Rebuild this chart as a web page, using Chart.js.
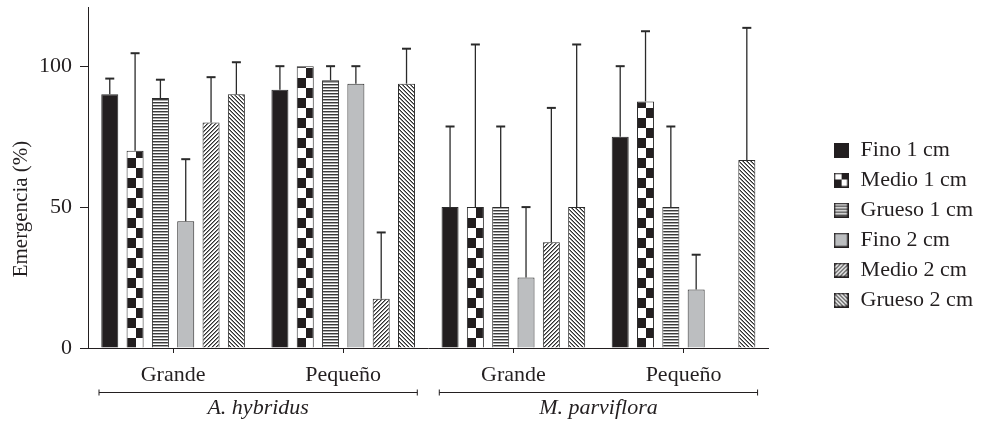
<!DOCTYPE html>
<html>
<head>
<meta charset="utf-8">
<script src="https://cdn.jsdelivr.net/npm/chart.js@4.4.1/dist/chart.umd.min.js"></script>
<style>
  html, body { margin: 0; padding: 0; background: #fff; }
  #wrap { position: relative; width: 983px; height: 425px; }
</style>
</head>
<body>
<div id="wrap"><canvas id="chart"></canvas></div>
<script>
// data (emergence %, upper error bar length)
const sizes = ['Grande', 'Pequeño', 'Grande', 'Pequeño'];
const species = ['A. hybridus', 'M. parviflora'];
const seriesNames = ['Fino 1 cm', 'Medio 1 cm', 'Grueso 1 cm', 'Fino 2 cm', 'Medio 2 cm', 'Grueso 2 cm'];

const fino1 = [90, 91.6, 50, 75];
const medio1 = [70, 100, 50, 87.5];
const grueso1 = [88.7, 95, 50, 50];
const fino2 = [45, 93.8, 25, 20.8];
const medio2 = [80, 17.5, 37.5, 0];
const grueso2 = [90, 93.8, 50, 66.7];

const fino1Err = [5.6, 8.4, 28.6, 25];
const medio1Err = [34.6, 0, 57.7, 24.9];
const grueso1Err = [6.5, 5, 28.6, 28.6];
const fino2Err = [22, 6.2, 25, 12.3];
const medio2Err = [16.1, 23.5, 47.7, 0];
const grueso2Err = [11.4, 12.4, 57.7, 46.9];

const yTicks = [0, 50, 100];

const INK = '#231f20';
const GREY = '#bcbec0';
const FONT = 'Liberation Serif';
const CAT_PCT = 0.893;
const BAR_PCT = 0.672;

// pattern tiles
const tiles = {};
function tile(kind) {
  if (tiles[kind]) return tiles[kind];
  const c = document.createElement('canvas');
  const g = c.getContext('2d');
  if (kind === 'checker') {
    c.width = 17; c.height = 20;
    g.fillStyle = '#fff'; g.fillRect(0, 0, 17, 20);
    g.fillStyle = INK;
    g.fillRect(9, 0, 8, 10);
    g.fillRect(0, 10, 9, 10);
  } else if (kind === 'hstripe') {
    c.width = 4; c.height = 3;
    g.fillStyle = '#fff'; g.fillRect(0, 0, 4, 3);
    g.fillStyle = '#3a3a3a'; g.fillRect(0, 0, 4, 1);
    g.fillStyle = '#a8a8a8'; g.fillRect(0, 1, 4, 1);
  } else if (kind === 'fwd' || kind === 'back') {
    c.width = 4; c.height = 4;
    g.fillStyle = '#fff'; g.fillRect(0, 0, 4, 4);
    for (let i = 0; i < 4; i++) {
      const yy = kind === 'fwd' ? 3 - i : i;
      g.fillStyle = '#2e2e2e'; g.fillRect(i, yy, 1, 1);
      g.fillStyle = '#8c8c8c'; g.fillRect(i, (yy + 1) % 4, 1, 1);
    }
  }
  tiles[kind] = c;
  return c;
}

function barFill(ctx) {
  const chart = ctx.chart;
  const kind = chart.data.datasets[ctx.datasetIndex].pattern;
  if (kind === 'solid') return INK;
  if (kind === 'grey') return GREY;
  const xs = chart.scales.x, ys = chart.scales.y;
  if (ctx.dataIndex === undefined || !xs || !xs.width) return '#fff';
  const n = chart.data.labels.length;
  const size = xs.width / n * CAT_PCT;
  const chunk = size / chart.data.datasets.length;
  const left = xs.getPixelForValue(ctx.dataIndex) - size / 2 + chunk * ctx.datasetIndex + chunk * (1 - BAR_PCT) / 2;
  const p = chart.ctx.createPattern(tile(kind), 'repeat');
  p.setTransform(new DOMMatrix().translate(Math.round(left), Math.round(ys.getPixelForValue(0))));
  return p;
}

// legend swatches
const swatches = {};
function swatch(kind) {
  if (swatches[kind]) return swatches[kind];
  const c = document.createElement('canvas');
  c.width = 15; c.height = 15;
  const g = c.getContext('2d');
  if (kind === 'solid') g.fillStyle = INK;
  else if (kind === 'grey') g.fillStyle = GREY;
  else if (kind === 'checker') {
    g.fillStyle = '#fff'; g.fillRect(0, 0, 15, 15);
    g.fillStyle = INK; g.fillRect(8, 0, 7, 7); g.fillRect(0, 7, 8, 8);
    g.fillStyle = 'rgba(0,0,0,0)';
  } else g.fillStyle = g.createPattern(tile(kind), 'repeat');
  g.fillRect(0, 0, 15, 15);
  g.strokeStyle = INK; g.lineWidth = 1.5;
  g.strokeRect(0.75, 0.75, 13.5, 13.5);
  swatches[kind] = c;
  return c;
}

const errorBars = {
  id: 'errorBars',
  afterDatasetsDraw(chart) {
    const { ctx } = chart;
    const y = chart.scales.y;
    ctx.save();
    ctx.strokeStyle = '#2a2a2a';
    chart.data.datasets.forEach((ds, di) => {
      chart.getDatasetMeta(di).data.forEach((bar, i) => {
        const e = ds.errors[i];
        if (!e) return;
        const v = ds.data[i];
        const yTop = y.getPixelForValue(v + e);
        ctx.lineWidth = 1.3;
        ctx.beginPath();
        ctx.moveTo(bar.x, y.getPixelForValue(v));
        ctx.lineTo(bar.x, yTop);
        ctx.stroke();
        ctx.lineWidth = 2;
        ctx.beginPath();
        ctx.moveTo(bar.x - 4.5, yTop);
        ctx.lineTo(bar.x + 4.5, yTop);
        ctx.stroke();
      });
    });
    ctx.restore();
  }
};

const speciesBrackets = {
  id: 'speciesBrackets',
  afterDraw(chart) {
    const s = chart.scales.x2;
    const ctx = chart.ctx;
    const half = s.width / species.length / 2;
    const yy = Math.round(s.top + 4) + 0.5;
    ctx.save();
    ctx.strokeStyle = INK;
    ctx.lineWidth = 1;
    species.forEach((_, i) => {
      const c = s.getPixelForValue(i);
      const a = c - half + 11, b = c + half - 11;
      ctx.beginPath();
      ctx.moveTo(a, yy); ctx.lineTo(b, yy);
      ctx.moveTo(a, yy - 3); ctx.lineTo(a, yy + 3);
      ctx.moveTo(b, yy - 3); ctx.lineTo(b, yy + 3);
      ctx.stroke();
    });
    ctx.restore();
  }
};

const seriesValues = [fino1, medio1, grueso1, fino2, medio2, grueso2];
const seriesErrors = [fino1Err, medio1Err, grueso1Err, fino2Err, medio2Err, grueso2Err];
const seriesPatterns = ['solid', 'checker', 'hstripe', 'grey', 'fwd', 'back'];

const datasets = seriesNames.map((name, i) => ({
  label: name,
  data: seriesValues[i],
  errors: seriesErrors[i],
  pattern: seriesPatterns[i],
  backgroundColor: barFill,
  borderColor: '#2b2b2b',
  borderWidth: 1,
  borderSkipped: 'bottom',
  categoryPercentage: CAT_PCT,
  barPercentage: BAR_PCT
}));

new Chart(document.getElementById('chart'), {
  type: 'bar',
  data: { labels: sizes, datasets },
  plugins: [errorBars, speciesBrackets],
  options: {
    responsive: true,
    maintainAspectRatio: false,
    animation: false,
    layout: { padding: { top: 7, left: 5, right: 0, bottom: 3 } },
    plugins: {
      tooltip: { enabled: false },
      legend: {
        position: 'right',
        align: 'center',
        title: { display: true, text: '', padding: 0, font: { size: 10, lineHeight: '21px' } },
        labels: {
          usePointStyle: true,
          boxWidth: 17,
          padding: 8,
          color: INK,
          font: { family: FONT, size: 22 },
          generateLabels(chart) {
            return chart.data.datasets.map((ds, i) => ({
              text: ds.label,
              fillStyle: 'rgba(0,0,0,0)',
              strokeStyle: 'rgba(0,0,0,0)',
              lineWidth: 0,
              pointStyle: swatch(ds.pattern),
              fontColor: INK,
              hidden: !chart.isDatasetVisible(i),
              datasetIndex: i
            }));
          }
        }
      }
    },
    scales: {
      x: {
        offset: true,
        grid: { display: true, drawOnChartArea: false, drawTicks: true, tickLength: 5, offset: false, color: INK },
        border: { display: true, color: INK, width: 1 },
        ticks: { color: INK, padding: 9, font: { family: FONT, size: 22 } },
        afterFit(scale) { scale.height = 40; scale.paddingLeft = 0; scale.paddingRight = 0; }
      },
      x2: {
        type: 'category',
        position: 'bottom',
        labels: species,
        offset: true,
        grid: { display: false, drawTicks: false },
        border: { display: false },
        ticks: { color: INK, padding: 7, font: { family: FONT, size: 22, style: 'italic' } },
        afterFit(scale) { scale.height = 34; scale.paddingLeft = 0; scale.paddingRight = 0; }
      },
      y: {
        min: 0,
        max: 121,
        afterBuildTicks(scale) { scale.ticks = yTicks.map(v => ({ value: v })); },
        grid: { display: true, drawOnChartArea: false, drawTicks: true, tickLength: 8, color: INK },
        border: { display: true, color: INK, width: 1 },
        ticks: { color: INK, padding: 8, font: { family: FONT, size: 22 } },
        title: {
          display: true,
          // trailing spaces push the centred title down to the 0-100 span, as in the figure
          text: 'Emergencia (%)' + '\u00a0'.repeat(12),
          color: INK,
          padding: { top: 4, bottom: 6 },
          font: { family: FONT, size: 21 }
        },
        afterFit(scale) { scale.width = 83; scale.paddingTop = 0; scale.paddingBottom = 0; }
      },
      gap: {
        type: 'linear',
        position: 'right',
        display: true,
        grid: { display: false, drawTicks: false },
        border: { display: false },
        ticks: { display: false },
        afterFit(scale) { scale.width = 56; scale.paddingTop = 0; scale.paddingBottom = 0; }
      }
    }
  }
});
</script>
</body>
</html>
